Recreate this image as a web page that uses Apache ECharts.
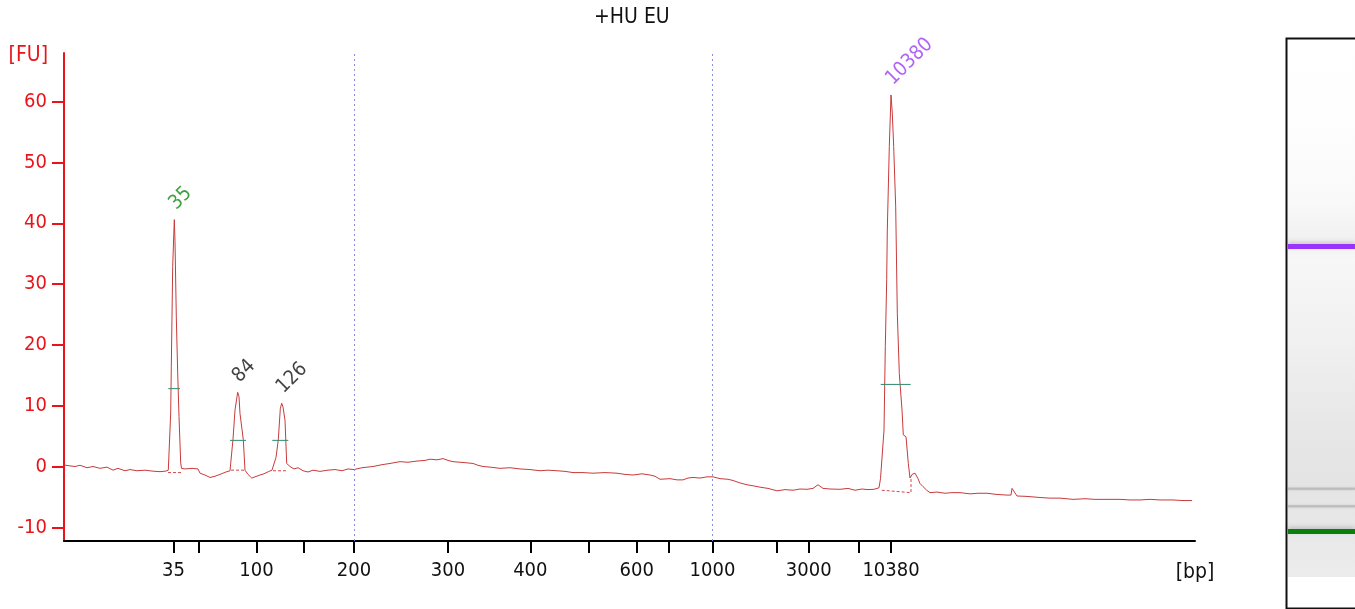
<!DOCTYPE html>
<html lang="en">

<head>
    <meta charset="UTF-8">
    <title>+HU EU</title>
    <script src="https://cdn.jsdelivr.net/npm/echarts@6/dist/echarts.min.js"></script>
    <style>
        html, body { margin: 0; padding: 0; background: #fff; }
        #main { width: 1355px; height: 609px; }
    </style>
</head>

<body>
    <div id="main"></div>
    <script>
        // migration time (arbitrary units) and fluorescence [FU]
        var time = [0, 6, 11, 16, 23, 29, 36, 43, 49, 54, 61, 66, 73, 81, 88, 96, 102,
            104.3, 106.7, 107.3, 108.7, 110.3, 111, 112.3, 113.7, 115, 116.7, 117.5,
            121, 128, 134, 136, 141, 146, 151, 156, 162, 166,
            167, 169, 171, 173.7, 175, 176, 179.3, 181,
            184, 187.7, 191, 196, 200, 204.3, 208,
            209.3, 212, 214.3, 216.3, 217.7, 219, 221, 222.7,
            226, 230, 234, 239, 244, 249, 256, 264, 271, 278, 284, 290,
            298, 309, 318, 326, 336, 344, 353, 361, 366, 373, 379, 384, 389, 396, 403, 409, 414, 419,
            426, 436, 446, 456, 466, 476, 484, 493, 501, 509, 519, 529, 541, 553, 561, 569, 578, 586,
            591, 596, 606, 613, 619, 624, 629, 636, 643, 649, 656, 664, 669, 676, 683, 690, 696, 704,
            713, 721, 729, 736, 743, 749, 754, 759, 766, 776, 784, 791, 798, 804, 810, 815, 816.5,
            817.7, 820, 821.3, 822.7, 823.3, 825.3, 827, 828.3, 829.7, 831.7, 833.3, 835.3, 838, 839.3,
            842, 844.3, 846, 848, 851, 854, 856, 859, 862.7, 866, 873, 881, 888, 896, 906, 914, 923,
            933, 943, 947, 948, 950, 953, 961, 969, 976, 986, 996, 1009, 1021, 1031, 1043, 1056, 1066,
            1076, 1086, 1096, 1109, 1119, 1128]
        var fu = [0.25, 0.1, 0, 0.2, -0.2, 0, -0.3, -0.1, -0.6, -0.3, -0.7, -0.5, -0.7, -0.6, -0.75, -0.85, -0.75,
            -0.6, 8.8, 16.4, 32.9, 40.6, 37, 24.6, 15.4, 8.2, 0.6, -0.3,
            -0.4, -0.3, -0.4, -1.1, -1.4, -1.8, -1.6, -1.3, -0.9, -0.7,
            -0.5, 4.5, 9.3, 12.2, 11.5, 8.7, 4.4, -0.6,
            -1.3, -1.9, -1.7, -1.4, -1.2, -0.85, -0.6,
            -0.4, 1.5, 4.4, 9.5, 10.4, 9.8, 7.6, 0.5,
            0, -0.4, -0.2, -0.7, -0.9, -0.6, -0.8, -0.6, -0.5, -0.7, -0.4, -0.5,
            -0.2, 0, 0.3, 0.5, 0.8, 0.7, 0.9, 1.0, 1.2, 1.1, 1.3, 1.0, 0.8, 0.7, 0.6, 0.5, 0.2, 0,
            -0.1, -0.3, -0.2, -0.4, -0.5, -0.7, -0.6, -0.7, -0.8, -1.0, -1.0, -1.1, -1.0, -1.1, -1.3, -1.4, -1.2, -1.4,
            -1.6, -2.1, -2.0, -2.2, -2.2, -1.9, -1.8, -1.9, -1.7, -1.7, -2.0, -2.1, -2.3, -2.7, -3.0, -3.2, -3.4, -3.6,
            -4.0, -3.8, -3.9, -3.7, -3.75, -3.6, -3.0, -3.6, -3.7, -3.75, -3.6, -3.9, -3.7, -3.8, -3.75, -3.5, -2.0,
            -1.9, 6.0, 19.7, 30.7, 38.9, 52.6, 61.1, 58.1, 52.6, 42.7, 25.2, 15.3, 9.3, 5.2,
            4.9, 0.5, -1.9, -1.3, -1.1, -2.0, -2.8, -3.3, -3.9, -4.3, -4.2, -4.4, -4.3, -4.3, -4.5, -4.4, -4.4,
            -4.6, -4.7, -4.7, -3.6, -3.7, -4.85, -4.9, -5.0, -5.1, -5.2, -5.2, -5.4, -5.3, -5.4, -5.4, -5.4, -5.5,
            -5.5, -5.4, -5.5, -5.5, -5.6, -5.6]

        // size axis: where each ladder size sits on the time axis
        var bpTickTime = [109.5, 134.7, 192.5, 240, 290, 384, 466.3, 524.7, 572.7, 605, 648.5, 712.7, 744.7, 795, 827]
        var bpLabelTime = [109.5, 192.5, 290, 384, 466.3, 572.7, 648.5, 744.7, 827]
        var bpLabels = ['35', '100', '200', '300', '400', '600', '1000', '3000', '10380']
        var bpGuideTime = [290, 648.5] // 200 bp and 1000 bp guides
        var fuTicks = [-10, 0, 10, 20, 30, 40, 50, 60]

        // called peaks
        var peakNames = ['35', '84', '126', '10380']
        var peakTime = [110.3, 173.7, 217.7, 827]
        var peakHeight = [40.6, 12.2, 10.4, 61.1]
        var peakColors = ['#128a12', '#111111', '#111111', '#9d3cf5']
        // half-height marks and peak baselines
        var halfStart = [104.3, 166, 208.3, 816.7]
        var halfEnd = [116, 182, 224.3, 846.7]
        var halfFu = [12.8, 4.3, 4.3, 13.5]
        var baseStart = [104, 167, 209, 817.7]
        var baseEnd = [117, 182, 224, 847]
        var baseStartFu = [-1.0, -0.6, -0.7, -3.9]
        var baseEndFu = [-1.0, -0.6, -0.7, -4.3]

        // gel lane bands (same time units)
        var bandTime = [110.3, 173.7, 217.7, 827]
        var bandColors = ['#0b7f0b', '#bdbdbd', '#bdbdbd', '#9b34fb']
        var bandThick = [5, 2, 2, 5]

        var red = '#e8141a'
        var font = '"DejaVu Sans Condensed", "Noto Sans", sans-serif'

        var mCharts = echarts.init(document.getElementById('main'))

        var series = [{
            type: 'line',
            xAxisIndex: 0,
            yAxisIndex: 0,
            data: time.map(function(t, i) { return [t, fu[i]] }),
            showSymbol: false,
            lineStyle: { color: '#c83a3a', width: 1 },
            z: 3,
            markLine: {
                silent: true,
                symbol: ['none', 'none'],
                label: { show: false },
                lineStyle: { type: [2, 3], color: '#8c8ce0', width: 1 },
                data: bpGuideTime.map(function(t) { return { xAxis: t } })
            }
        }]

        for (var i = 0; i < peakNames.length; i++) {
            // half height mark
            series.push({
                type: 'line',
                data: [[halfStart[i], halfFu[i]], [halfEnd[i], halfFu[i]]],
                showSymbol: false,
                lineStyle: { color: '#2f8a70', width: 1 },
                z: 4
            })
            // peak baseline (dotted), the last peak also drops up to the trace
            var base = [[baseStart[i], baseStartFu[i]], [baseEnd[i], baseEndFu[i]]]
            if (i == 3) base.push([baseEnd[i], -1.7])
            series.push({
                type: 'line',
                data: base,
                showSymbol: false,
                lineStyle: { color: '#d04848', width: 1, type: [3, 2] },
                z: 2
            })
        }

        // peak size labels
        series.push({
            type: 'scatter',
            symbolSize: 0,
            data: peakNames.map(function(n, i) {
                return {
                    value: [peakTime[i], peakHeight[i]],
                    name: n,
                    label: { color: peakColors[i] }
                }
            }),
            label: {
                show: true,
                position: 'inside',
                formatter: '{b}',
                rotate: 45,
                align: 'left',
                verticalAlign: 'bottom',
                offset: [8, -0.5],
                fontSize: 20,
                fontFamily: font
            },
            z: 5
        })

        // gel lane
        series.push({
            type: 'custom',
            xAxisIndex: 1,
            yAxisIndex: 1,
            data: bandTime.map(function(t) { return [0, t] }),
            renderItem: function(params, api) {
                var cs = params.coordSys
                var y = api.coord([0, api.value(1)])[1]
                var h = bandThick[params.dataIndex]
                return {
                    type: 'rect',
                    shape: { x: cs.x, y: y - h / 2, width: cs.width, height: h },
                    style: {
                        fill: bandColors[params.dataIndex],
                        shadowBlur: h > 3 ? 4 : 2,
                        shadowColor: 'rgba(0,0,0,0.18)',
                        shadowOffsetY: h > 3 ? -2 : 0
                    }
                }
            }
        })

        var option = {
            animation: false,
            textStyle: { fontFamily: font },
            title: {
                text: '+HU EU',
                left: 589,
                top: 2,
                textStyle: { fontSize: 21, fontWeight: 'normal', color: '#111', fontFamily: font }
            },
            grid: [{
                left: 64,
                right: 160,
                top: 53,
                bottom: 68
            }, {
                left: 1288,
                right: 0,
                top: 40,
                bottom: 32,
                show: true,
                borderWidth: 0,
                backgroundColor: new echarts.graphic.LinearGradient(0, 0, 0, 1, [
                    { offset: 0, color: '#ffffff' },
                    { offset: 0.15, color: '#fefefe' },
                    { offset: 0.3, color: '#f9f9f9' },
                    { offset: 0.37, color: '#f1f1f1' },
                    { offset: 0.41, color: '#f7f7f7' },
                    { offset: 0.55, color: '#f1f1f1' },
                    { offset: 0.72, color: '#e7e7e7' },
                    { offset: 0.82, color: '#e4e4e4' },
                    { offset: 1, color: '#ececec' }
                ])
            }],
            xAxis: [{
                type: 'value',
                gridIndex: 0,
                min: 0,
                max: 1131,
                axisLine: { show: true, onZero: false, lineStyle: { color: '#000', width: 2 } },
                axisTick: { show: true, customValues: bpTickTime, length: 12, lineStyle: { color: '#000', width: 2 } },
                axisLabel: {
                    customValues: bpLabelTime,
                    formatter: function(v) { return bpLabels[bpLabelTime.indexOf(v)] },
                    color: '#111',
                    fontSize: 20,
                    margin: 20,
                    fontFamily: font
                },
                splitLine: { show: false },
                name: '[bp]',
                nameLocation: 'end',
                nameGap: 0,
                nameTextStyle: {
                    color: '#111',
                    fontSize: 21,
                    fontFamily: font,
                    align: 'center',
                    verticalAlign: 'top',
                    padding: [21, 0, 0, 0]
                }
            }, {
                type: 'value',
                gridIndex: 1,
                min: 0,
                max: 1,
                show: false
            }],
            yAxis: [{
                type: 'value',
                gridIndex: 0,
                min: -12.25,
                max: 68,
                axisLine: { show: true, onZero: false, lineStyle: { color: red, width: 2 } },
                axisTick: { show: true, customValues: fuTicks, length: 12, lineStyle: { color: red, width: 2 } },
                axisLabel: { customValues: fuTicks, color: red, fontSize: 20, margin: 17, fontFamily: font },
                splitLine: { show: false },
                name: '[FU]',
                nameLocation: 'end',
                nameGap: -3,
                nameTextStyle: {
                    color: red,
                    fontSize: 21,
                    fontFamily: font,
                    align: 'right',
                    verticalAlign: 'middle',
                    padding: [0, 16, 0, 0]
                }
            }, {
                type: 'value',
                gridIndex: 1,
                min: -4,
                max: 1346,
                show: false
            }],
            graphic: [{
                type: 'rect',
                left: 1284,
                top: 36,
                shape: { width: 90, height: 570 },
                style: { fill: 'none', stroke: '#111', lineWidth: 2 },
                z: 100
            }],
            series: series
        }
        mCharts.setOption(option)
    </script>
</body>

</html>
